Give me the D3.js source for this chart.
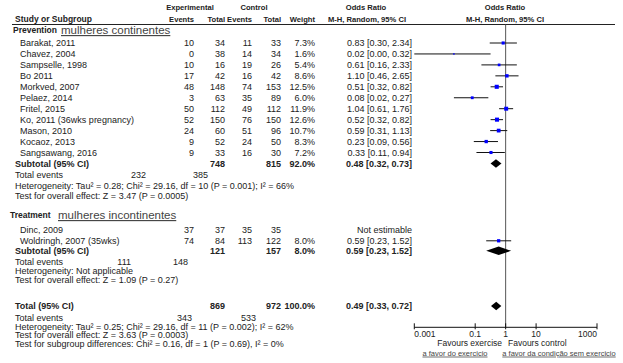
<!DOCTYPE html>
<html>
<head>
<meta charset="utf-8">
<script src="https://cdn.jsdelivr.net/npm/d3@7"></script>
<style>
  body { margin: 0; background: #fff; }
  text { font-family: "Liberation Sans", Arial, sans-serif; fill: #222; }
</style>
</head>
<body>
<svg id="forest" width="623" height="363"></svg>
<script>
// study data: name, exp events/total, ctrl events/total, weight %, OR and 95% CI
const prevention = [
  { study: "Barakat, 2011", eE: 10, eT: 34, cE: 11, cT: 33, w: 7.3, or: 0.83, lo: 0.30, hi: 2.34 },
  { study: "Chavez, 2004", eE: 0, eT: 38, cE: 14, cT: 34, w: 1.6, or: 0.02, lo: 0.00, hi: 0.32 },
  { study: "Sampselle, 1998", eE: 10, eT: 16, cE: 19, cT: 26, w: 5.4, or: 0.61, lo: 0.16, hi: 2.33 },
  { study: "Bo 2011", eE: 17, eT: 42, cE: 16, cT: 42, w: 8.6, or: 1.10, lo: 0.46, hi: 2.65 },
  { study: "Morkved, 2007", eE: 48, eT: 148, cE: 74, cT: 153, w: 12.5, or: 0.51, lo: 0.32, hi: 0.82 },
  { study: "Pelaez, 2014", eE: 3, eT: 63, cE: 35, cT: 89, w: 6.0, or: 0.08, lo: 0.02, hi: 0.27 },
  { study: "Fritel, 2015", eE: 50, eT: 112, cE: 49, cT: 112, w: 11.9, or: 1.04, lo: 0.61, hi: 1.76 },
  { study: "Ko, 2011 (36wks pregnancy)", eE: 52, eT: 150, cE: 76, cT: 150, w: 12.6, or: 0.52, lo: 0.32, hi: 0.82 },
  { study: "Mason, 2010", eE: 24, eT: 60, cE: 51, cT: 96, w: 10.7, or: 0.59, lo: 0.31, hi: 1.13 },
  { study: "Kocaoz, 2013", eE: 9, eT: 52, cE: 24, cT: 50, w: 8.3, or: 0.23, lo: 0.09, hi: 0.56 },
  { study: "Sangsawang, 2016", eE: 9, eT: 33, cE: 16, cT: 30, w: 7.2, or: 0.33, lo: 0.11, hi: 0.94 },
];

const treatment = [
  { study: "Dinc, 2009", eE: 37, eT: 37, cE: 35, cT: 35, w: null, or: null, lo: null, hi: null },
  { study: "Woldringh, 2007 (35wks)", eE: 74, eT: 84, cE: 113, cT: 122, w: 8.0, or: 0.59, lo: 0.23, hi: 1.52 },
];

// pooled estimates
const subtotals = [
  { key: "prevention", eT: 748, cT: 815, w: "92.0%", or: 0.48, lo: 0.32, hi: 0.73, evE: 232, evC: 385 },
  { key: "treatment", eT: 121, cT: 157, w: "8.0%", or: 0.59, lo: 0.23, hi: 1.52, evE: 111, evC: 148 },
  { key: "total", eT: 869, cT: 972, w: "100.0%", or: 0.49, lo: 0.33, hi: 0.72, evE: 343, evC: 533 },
];

const footnotes = {
  prevention: [
    "Heterogeneity: Tau\u00b2 = 0.28; Chi\u00b2 = 29.16, df = 10 (P = 0.001); I\u00b2 = 66%",
    "Test for overall effect: Z = 3.47 (P = 0.0005)",
  ],
  treatment: ["Heterogeneity: Not applicable", "Test for overall effect: Z = 1.09 (P = 0.27)"],
  total: [
    "Heterogeneity: Tau\u00b2 = 0.25; Chi\u00b2 = 29.16, df = 11 (P = 0.002); I\u00b2 = 62%",
    "Test for overall effect: Z = 3.63 (P = 0.0003)",
    "Test for subgroup differences: Chi\u00b2 = 0.16, df = 1 (P = 0.69), I\u00b2 = 0%",
  ],
};

const axisTicks = [0.001, 0.1, 1, 10, 1000];
const axisTickLabels = ["0.001", "0.1", "1", "10", "1000"];

const svg = d3.select("#forest");
const fmt = d3.format(".2f");

// columns (right edges)
const col = { name: 20, eE: 194, eT: 225, cE: 252, cT: 281, w: 315, or: 412 };
const fs = 9;
const hs = 7.6;

const x = d3.scaleLog().domain([0.001, 1000]).range([414.3, 597]).clamp(true);
const rowY = d3.scaleLinear().domain([0, 1]).range([43, 53.95]);
const axisY = 327.3;

function label(xp, yc, str, opts = {}) {
  return svg
    .append("text")
    .attr("x", xp)
    .attr("y", yc + (opts.size || fs) * 0.35)
    .attr("font-size", opts.size || fs)
    .attr("font-weight", opts.bold ? "bold" : null)
    .attr("text-anchor", opts.anchor || "start")
    .attr("text-decoration", opts.underline ? "underline" : null)
    .style("fill", opts.color || null)
    .text(str);
}

function ciText(d) {
  return `${fmt(d.or)} [${fmt(d.lo)}, ${fmt(d.hi)}]`;
}

// headers
label(190, 7.5, "Experimental", { bold: true, anchor: "middle", size: hs });
label(254, 7.5, "Control", { bold: true, anchor: "middle", size: hs });
label(366, 7.5, "Odds Ratio", { bold: true, anchor: "middle", size: hs });
label(505, 7.5, "Odds Ratio", { bold: true, anchor: "middle", size: hs });
label(15, 19.5, "Study or Subgroup", { bold: true, size: 8.5 });
label(col.eE, 19.5, "Events", { bold: true, anchor: "end", size: hs });
label(col.eT, 19.5, "Total", { bold: true, anchor: "end", size: hs });
label(col.cE, 19.5, "Events", { bold: true, anchor: "end", size: hs });
label(col.cT, 19.5, "Total", { bold: true, anchor: "end", size: hs });
label(col.w, 19.5, "Weight", { bold: true, anchor: "end", size: hs });
label(367, 19.5, "M-H, Random, 95% CI", { bold: true, anchor: "middle", size: hs });
label(505, 19.5, "M-H, Random, 95% CI", { bold: true, anchor: "middle", size: hs });

svg.append("line").attr("x1", 12).attr("x2", 615).attr("y1", 24.5).attr("y2", 24.5)
  .attr("stroke", "#222").attr("stroke-width", 1);

// reference line at OR = 1
svg.append("line").attr("x1", x(1)).attr("x2", x(1)).attr("y1", 24.5).attr("y2", axisY)
  .attr("stroke", "#555").attr("stroke-width", 1);

// group headings
label(13, 30, "Prevention", { bold: true, size: 8.5 });
label(61, 30, "mulheres continentes", { size: 11.5, underline: true, color: "#444" });

function studyRow(d, yc) {
  label(col.name, yc, d.study);
  label(col.eE, yc, d.eE, { anchor: "end" });
  label(col.eT, yc, d.eT, { anchor: "end" });
  label(col.cE, yc, d.cE, { anchor: "end" });
  label(col.cT, yc, d.cT, { anchor: "end" });
  if (d.or == null) {
    label(col.or, yc, "Not estimable", { anchor: "end" });
    return;
  }
  label(col.w, yc, d.w.toFixed(1) + "%", { anchor: "end" });
  label(col.or, yc, ciText(d), { anchor: "end" });
  svg.append("line")
    .attr("x1", x(Math.max(d.lo, 0.001))).attr("x2", x(d.hi))
    .attr("y1", yc).attr("y2", yc)
    .attr("stroke", "#111").attr("stroke-width", 1);
  const s = Math.sqrt(d.w) * 1.15;
  svg.append("rect")
    .attr("x", x(d.or) - s / 2).attr("y", yc - s / 2)
    .attr("width", s).attr("height", s)
    .attr("fill", "#0000ff");
}

function diamond(d, yc) {
  const h = 4.2;
  svg.append("path")
    .attr("d", `M${x(d.lo)},${yc} L${x(d.or)},${yc - h} L${x(d.hi)},${yc} L${x(d.or)},${yc + h} Z`)
    .attr("fill", "#000");
}

function subtotalRow(d, yc, name) {
  label(15, yc, name, { bold: true });
  label(col.eT, yc, d.eT, { bold: true, anchor: "end" });
  label(col.cT, yc, d.cT, { bold: true, anchor: "end" });
  label(col.w, yc, d.w, { bold: true, anchor: "end" });
  label(col.or, yc, ciText(d), { bold: true, anchor: "end" });
  diamond(d, yc);
}

prevention.forEach((d, i) => studyRow(d, rowY(i)));
const sp = subtotals[0];
subtotalRow(sp, rowY(prevention.length), "Subtotal (95% CI)");
label(15, 175.3, "Total events");
label(146, 175.3, sp.evE, { anchor: "end" });
label(208, 175.3, sp.evC, { anchor: "end" });
label(15, 185.7, footnotes.prevention[0]);
label(15, 196, footnotes.prevention[1]);

// treatment subgroup
label(10, 215, "Treatment", { bold: true, size: 8.5 });
label(58, 215, "mulheres incontinentes", { size: 11.5, underline: true, color: "#444" });
const tY = [229.7, 240.8];
treatment.forEach((d, i) => studyRow(d, tY[i]));
const st = subtotals[1];
subtotalRow(st, 250.8, "Subtotal (95% CI)");
label(15, 261.7, "Total events");
label(131, 261.7, st.evE, { anchor: "end" });
label(188, 261.7, st.evC, { anchor: "end" });
label(15, 270.5, footnotes.treatment[0]);
label(15, 279.5, footnotes.treatment[1]);

// overall
const so = subtotals[2];
subtotalRow(so, 306, "Total (95% CI)");
label(15, 318, "Total events");
label(192, 318, so.evE, { anchor: "end" });
label(256, 318, so.evC, { anchor: "end" });
label(15, 326.5, footnotes.total[0]);
label(15, 335, footnotes.total[1]);
label(15, 343.5, footnotes.total[2]);

// log axis
svg.append("line").attr("x1", x(0.001)).attr("x2", x(1000)).attr("y1", axisY).attr("y2", axisY)
  .attr("stroke", "#111");
svg.selectAll(".tick").data(axisTicks).join("line")
  .attr("x1", (t) => x(t)).attr("x2", (t) => x(t))
  .attr("y1", axisY - 4).attr("y2", axisY + 2)
  .attr("stroke", "#111");
axisTicks.forEach((t, i) => {
  const anchor = i === 0 ? "start" : i === axisTicks.length - 1 ? "end" : "middle";
  label(x(t), 333.8, axisTickLabels[i], { anchor, size: 8.5 });
});
label(502, 343.5, "Favours exercise", { anchor: "end", size: 8.5 });
label(508, 343.5, "Favours control", { size: 8.5 });
label(455, 353, "a favor do exercicio", { anchor: "middle", size: 7.5, underline: true, color: "#444" });
label(559, 353, "a favor da condição sem exercicio", { anchor: "middle", size: 7.5, underline: true, color: "#444" });
</script>
</body>
</html>
